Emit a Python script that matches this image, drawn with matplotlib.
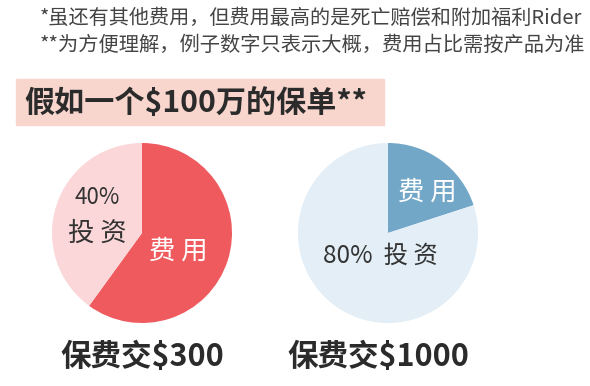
import matplotlib
matplotlib.use('Agg')
import matplotlib.pyplot as plt
from matplotlib.patches import Rectangle

plt.rcParams['font.family'] = ['Noto Sans CJK SC', 'DejaVu Sans']

W, H = 590, 386

notes = ['*虽还有其他费用，但费用最高的是死亡赔偿和附加福利Rider',
         '**为方便理解，例子数字只表示大概，费用占比需按产品为准']
title = '假如一个$100万的保单**'

# pie values: [fee, investment]
left_vals = [60, 40]
right_vals = [20, 80]
left_label = '保费交$300'
right_label = '保费交$1000'

fig = plt.figure(figsize=(W / 100, H / 100), dpi=100)
ax = fig.add_axes([0, 0, 1, 1])

def Y(y):
    return H - y

# notes on top
ax.text(40, Y(18), notes[0], fontsize=14.5, color='#444444', va='center', ha='left')
ax.text(40, Y(45), notes[1], fontsize=14.6, color='#444444', va='center', ha='left')

# title band
ax.add_patch(Rectangle((16, Y(125)), 368, 46, color='#F8D6CD', zorder=1))
ax.text(24, Y(103), title, fontsize=21.7, fontweight='bold', color='#2b2b2b',
        va='center', ha='left', zorder=2)

# left pie
ax.pie(left_vals, colors=['#EF5A5E', '#FBD7D9'], startangle=90, counterclock=False,
       center=(142, Y(233)), radius=90, frame=True)
# right pie
ax.pie(right_vals, colors=['#72A7C7', '#E3EEF6'], startangle=90, counterclock=False,
       center=(388, Y(233)), radius=90, frame=True)
ax.set_xlim(0, W)
ax.set_ylim(0, H)
ax.set_aspect('equal')
ax.axis('off')

# labels inside pies
ax.text(97, Y(197), '40%', fontsize=16, color='#333333', ha='center', va='center')
ax.text(97, Y(233), '投 资', fontsize=19, color='#333333', ha='center', va='center')
ax.text(178, Y(251), '费 用', fontsize=19, color='white', ha='center', va='center')
ax.text(427, Y(192), '费 用', fontsize=19, color='white', ha='center', va='center')
ax.text(380, Y(256), '80%  投 资', fontsize=17.5, color='#333333', ha='center', va='center')

# bottom labels
ax.text(142, Y(357), left_label, fontsize=22, fontweight='bold', color='#2b2b2b',
        ha='center', va='center')
ax.text(378, Y(357), right_label, fontsize=22, fontweight='bold', color='#2b2b2b',
        ha='center', va='center')

fig.savefig('out.png', dpi=100, facecolor='white')
